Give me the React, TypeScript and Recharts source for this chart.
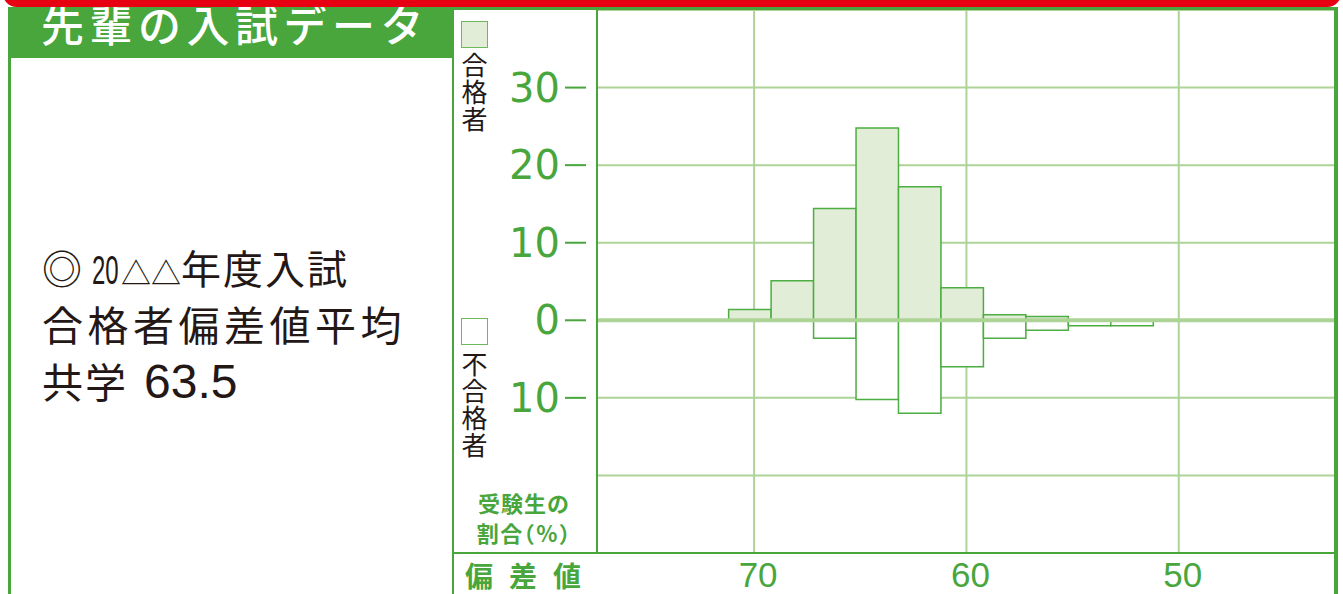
import {
  ComposedChart,
  CartesianGrid,
  XAxis,
  YAxis,
  ReferenceArea,
  ReferenceLine,
} from "recharts";

// 偏差値の区間（左端・右端）
const binUpper = [71.2, 69.2, 67.2, 65.2, 63.2, 61.2, 59.2, 57.2, 55.2, 53.2];
const binLower = [69.2, 67.2, 65.2, 63.2, 61.2, 59.2, 57.2, 55.2, 53.2, 51.2];

// 受験生の割合(%)
const passRates = [1.4, 5.1, 14.4, 24.8, 17.2, 4.2, 0.7, 0.5, 0, 0];
const failRates = [0, 0, 2.3, 10.2, 12.0, 6.0, 2.3, 1.3, 0.7, 0.7];

const xTicks = [70, 60, 50];
const yTicks = [-30, -20, -10, 0, 10, 20, 30, 40];
const yLabelled = [30, 20, 10, 0, -10];

const GREEN = "#48a63c";
const LIGHT = "#add396";
const PASS_FILL = "#e2edd8";
const INK = "#231815";
const JP = '"Noto Sans CJK JP", sans-serif';

const bins = binUpper.map((hi, i) => ({
  hi,
  lo: binLower[i],
  pass: passRates[i],
  fail: failRates[i],
}));

function YTick(props: any) {
  const { x, y, payload } = props;
  const v = payload.value;
  if (!yLabelled.includes(v)) return null;
  return (
    <g>
      <text
        x={x - 37}
        y={y + 14}
        textAnchor="end"
        fontSize={40}
        fontFamily="DejaVu Sans"
        fill={GREEN}
      >
        {Math.abs(v)}
      </text>
      <line x1={x - 32} x2={x - 11} y1={y} y2={y} stroke={GREEN} strokeWidth={2} />
    </g>
  );
}

function XTick(props: any) {
  const { x, y, payload } = props;
  return (
    <text
      x={x + 4}
      y={y + 34}
      textAnchor="middle"
      fontSize={35}
      fontFamily="Liberation Sans"
      fill={GREEN}
    >
      {payload.value}
    </text>
  );
}

const box = (
  left: number,
  top: number,
  width: number,
  height: number,
  bg: string
) => (
  <div
    style={{ position: "absolute", left, top, width, height, background: bg }}
  />
);

function VText({ chars, left, top }: { chars: string; left: number; top: number }) {
  return (
    <div
      style={{
        position: "absolute",
        left,
        top,
        writingMode: "vertical-rl",
        fontFamily: JP,
        fontSize: 26,
        lineHeight: "28px",
        letterSpacing: 1,
        color: INK,
        whiteSpace: "nowrap",
      }}
    >
      {chars}
    </div>
  );
}

export default function App() {
  return (
    <div
      style={{
        position: "absolute",
        left: 0,
        top: 0,
        width: 1343,
        height: 594,
        overflow: "hidden",
        background: "#fff",
      }}
    >
      <div style={{ position: "absolute", left: 452, top: 10 }}>
        <ComposedChart
          width={886}
          height={584}
          data={bins}
          margin={{ top: 0, right: 0, bottom: 0, left: 0 }}
        >
          <CartesianGrid stroke={LIGHT} strokeWidth={2} />
          <XAxis
            type="number"
            dataKey="hi"
            domain={[42.5, 77.4]}
            reversed
            ticks={xTicks}
            height={41}
            axisLine={false}
            tickLine={false}
            tickSize={0}
            tickMargin={0}
            tick={<XTick />}
            allowDataOverflow
          />
          <YAxis
            type="number"
            domain={[-30, 40]}
            ticks={yTicks}
            width={145}
            axisLine={false}
            tickLine={false}
            tickSize={0}
            tickMargin={0}
            tick={<YTick />}
            interval={0}
            allowDataOverflow
          />
          {bins
            .filter((b) => b.pass > 0)
            .map((b) => (
              <ReferenceArea
                key={"p" + b.hi}
                x1={b.hi}
                x2={b.lo}
                y1={0}
                y2={b.pass}
                fill={PASS_FILL}
                fillOpacity={1}
                stroke="#4cad42"
                strokeWidth={1.5}
              />
            ))}
          {bins
            .filter((b) => b.fail > 0)
            .map((b) => (
              <ReferenceArea
                key={"f" + b.hi}
                x1={b.hi}
                x2={b.lo}
                y1={-b.fail}
                y2={0}
                fill="#ffffff"
                fillOpacity={1}
                stroke="#4cad42"
                strokeWidth={1.5}
              />
            ))}
          <ReferenceLine y={0} stroke={LIGHT} strokeWidth={4} />
        </ComposedChart>
      </div>

      {/* 枠線 */}
      {box(452, 7, 886, 3, GREEN)}
      {box(1334, 7, 4, 587, GREEN)}
      {box(452, 7, 2, 587, GREEN)}
      {box(596, 10, 2, 543, GREEN)}
      {box(452, 552, 886, 2, GREEN)}
      {box(8, 7, 3, 587, GREEN)}
      {box(8, 7, 446, 51, GREEN)}

      <div
        style={{
          position: "absolute",
          left: 3,
          top: -20,
          width: 1338,
          height: 27,
          background: "#e60012",
          borderRadius: 14,
          zIndex: 2,
        }}
      />

      <div
        style={{
          position: "absolute",
          left: 41,
          top: 2,
          height: 42,
          lineHeight: "42px",
          fontFamily: JP,
          fontSize: 43,
          fontWeight: 500,
          letterSpacing: 5.5,
          color: "#fff",
          whiteSpace: "nowrap",
        }}
      >
        先輩の入試データ
      </div>

      {/* 左欄 */}
      <div
        style={{
          position: "absolute",
          left: 42,
          top: 246,
          lineHeight: "42px",
          fontFamily: JP,
          fontSize: 40,
          color: INK,
          whiteSpace: "nowrap",
        }}
      >
        ◎
        <span
          style={{
            display: "inline-block",
            fontSize: 40,
            fontFamily: "Liberation Sans",
            transform: "scaleX(0.6)",
            transformOrigin: "left",
            marginLeft: 10,
            width: 29,
          }}
        >
          20
        </span>
        <span style={{ fontSize: 30 }}>△△</span>
        <span style={{ letterSpacing: 2 }}>年度入試</span>
      </div>
      <div
        style={{
          position: "absolute",
          left: 42,
          top: 302,
          lineHeight: "42px",
          fontFamily: JP,
          fontSize: 41,
          letterSpacing: 4.5,
          color: INK,
          whiteSpace: "nowrap",
        }}
      >
        合格者偏差値平均
      </div>
      <div
        style={{
          position: "absolute",
          left: 42,
          top: 358,
          lineHeight: "44px",
          fontFamily: JP,
          fontSize: 41,
          color: INK,
          whiteSpace: "nowrap",
        }}
      >
        <span style={{ letterSpacing: 2 }}>共学</span>
        <span style={{ fontFamily: "Liberation Sans", fontSize: 48, marginLeft: 16 }}>
          63.5
        </span>
      </div>

      {/* 凡例 */}
      <div
        style={{
          position: "absolute",
          left: 461,
          top: 21,
          width: 25,
          height: 25,
          background: PASS_FILL,
          border: "1.5px solid #6db85a",
        }}
      />
      <VText chars="合格者" left={460} top={52} />
      <div
        style={{
          position: "absolute",
          left: 461,
          top: 318,
          width: 25,
          height: 25,
          background: "#fff",
          border: "1.5px solid #6db85a",
        }}
      />
      <VText chars="不合格者" left={460} top={351} />

      <div
        style={{
          position: "absolute",
          left: 468,
          top: 487,
          width: 112,
          textAlign: "center",
          fontFamily: JP,
          fontWeight: 700,
          fontSize: 22,
          lineHeight: "30px",
          color: GREEN,
          whiteSpace: "nowrap",
        }}
      >
        <div style={{ letterSpacing: 1 }}>受験生の</div>
        <div style={{ letterSpacing: 1.5, fontFeatureSettings: '"halt"' }}>
          割合（%）
        </div>
      </div>

      <div
        style={{
          position: "absolute",
          left: 465,
          top: 559,
          fontFamily: JP,
          fontWeight: 700,
          fontSize: 28,
          lineHeight: "32px",
          letterSpacing: 16,
          color: GREEN,
          whiteSpace: "nowrap",
        }}
      >
        偏差値
      </div>
    </div>
  );
}
